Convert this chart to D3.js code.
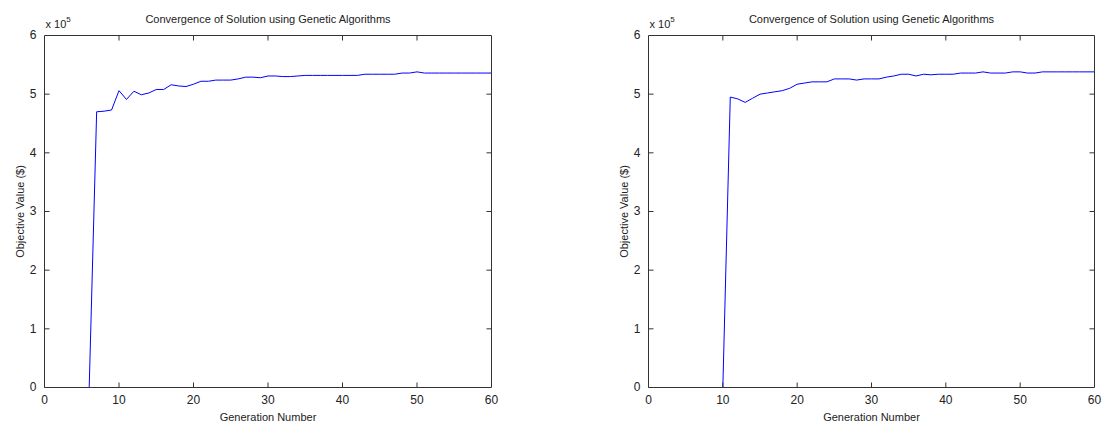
<!DOCTYPE html>
<html>
<head>
<meta charset="utf-8">
<script src="https://cdn.jsdelivr.net/npm/d3@7/dist/d3.min.js"></script>
<style>
  body { margin: 0; background: #fff; }
  svg { display: block; }
  text { font-family: "Liberation Sans", Arial, sans-serif; fill: #222; }
</style>
</head>
<body>
<div id="chart"></div>
<script>
// generation numbers 0..60
const generations = d3.range(0, 61)

// objective value in units of 1e5 $
const leftValues = [
    0, 0, 0, 0, 0, 0, 0, 4.70, 4.71, 4.73,
    5.06, 4.91, 5.05, 4.99, 5.02, 5.08, 5.08, 5.16, 5.14, 5.13,
    5.17, 5.22, 5.22, 5.24, 5.24, 5.24, 5.26, 5.29, 5.29, 5.28,
    5.31, 5.31, 5.30, 5.30, 5.31, 5.32, 5.32, 5.32, 5.32, 5.32,
    5.32, 5.32, 5.32, 5.34, 5.34, 5.34, 5.34, 5.34, 5.36, 5.36,
    5.38, 5.36, 5.36, 5.36, 5.36, 5.36, 5.36, 5.36, 5.36, 5.36,
    5.36
]

// right panel
const rightValues = [
    0, 0, 0, 0, 0, 0, 0, 0, 0, 0,
    0, 4.95, 4.92, 4.86, 4.93, 5.00, 5.02, 5.04, 5.06, 5.10,
    5.17, 5.19, 5.21, 5.21, 5.21, 5.26, 5.26, 5.26, 5.24, 5.26,
    5.26, 5.26, 5.29, 5.31, 5.34, 5.34, 5.31, 5.34, 5.33, 5.34,
    5.34, 5.34, 5.36, 5.36, 5.36, 5.38, 5.36, 5.36, 5.36, 5.38,
    5.38, 5.36, 5.36, 5.38, 5.38, 5.38, 5.38, 5.38, 5.38, 5.38,
    5.38
]

const xTicks = [0, 10, 20, 30, 40, 50, 60]
const yTicks = [0, 1, 2, 3, 4, 5, 6]

const titleText = 'Convergence of Solution using Genetic Algorithms'
const xLabel = 'Generation Number'
const yLabel = 'Objective Value ($)'

const width = 1102
const height = 425

const svg = d3.select('#chart').append('svg')
    .attr('width', width)
    .attr('height', height)

const panels = [
    { values: leftValues, left: 44.5, right: 491.5 },
    { values: rightValues, left: 648.5, right: 1094.5 }
]

const plotTop = 35.5
const plotBottom = 387.5
const tickLen = 5

panels.forEach(p => {
    const x = d3.scaleLinear().domain([0, 60]).range([p.left, p.right])
    const y = d3.scaleLinear().domain([0, 6]).range([plotBottom, plotTop])

    const g = svg.append('g')

    // line (drawn first so the box sits on top of the zero stretch)
    const line = d3.line()
        .x((d, i) => x(generations[i]))
        .y(d => y(d))

    g.append('path')
        .datum(p.values)
        .attr('d', line)
        .attr('fill', 'none')
        .attr('stroke', '#0000ff')
        .attr('stroke-width', 1)

    // axes with inward ticks
    const xBottom = g.append('g')
        .attr('transform', `translate(0,${plotBottom})`)
        .call(d3.axisBottom(x).offset(0).tickValues(xTicks).tickSizeInner(-tickLen).tickSizeOuter(0).tickPadding(tickLen + 3))
    const xTop = g.append('g')
        .attr('transform', `translate(0,${plotTop})`)
        .call(d3.axisTop(x).offset(0).tickValues(xTicks).tickSizeInner(-tickLen).tickSizeOuter(0).tickFormat(''))
    const yLeft = g.append('g')
        .attr('transform', `translate(${p.left},0)`)
        .call(d3.axisLeft(y).offset(0).tickValues(yTicks).tickFormat(d3.format('d')).tickSizeInner(-tickLen).tickSizeOuter(0).tickPadding(tickLen + 3))
    const yRight = g.append('g')
        .attr('transform', `translate(${p.right},0)`)
        .call(d3.axisRight(y).offset(0).tickValues(yTicks).tickSizeInner(-tickLen).tickSizeOuter(0).tickFormat(''))

    ;[xBottom, xTop, yLeft, yRight].forEach(a => {
        a.selectAll('.domain').attr('stroke', '#333')
        a.selectAll('.tick line').attr('stroke', '#333')
        a.selectAll('.tick text')
            .style('font-family', '"Liberation Sans", Arial, sans-serif')
            .style('font-size', '12px')
            .attr('fill', '#222')
    })

    // drop end ticks that sit on the box
    xBottom.selectAll('.tick line').filter(d => d === 0 || d === 60).remove()
    xTop.selectAll('.tick line').filter(d => d === 0 || d === 60).remove()
    yLeft.selectAll('.tick line').filter(d => d === 0 || d === 6).remove()
    yRight.selectAll('.tick line').filter(d => d === 0 || d === 6).remove()

    // title
    g.append('text')
        .attr('x', (p.left + p.right) / 2)
        .attr('y', 23)
        .attr('text-anchor', 'middle')
        .style('font-size', '11px')
        .text(titleText)

    // x label
    g.append('text')
        .attr('x', (p.left + p.right) / 2)
        .attr('y', 421)
        .attr('text-anchor', 'middle')
        .style('font-size', '11px')
        .text(xLabel)

    // y label
    g.append('text')
        .attr('transform', `translate(${p.left - 21},${(plotTop + plotBottom) / 2}) rotate(-90)`)
        .attr('text-anchor', 'middle')
        .style('font-size', '11px')
        .text(yLabel)

    // exponent
    const expo = g.append('text')
        .attr('x', p.left + 1)
        .attr('y', 28)
        .style('font-size', '11px')
    expo.append('tspan').text('x 10')
    expo.append('tspan')
        .attr('dy', -6)
        .style('font-size', '8px')
        .text('5')
})
</script>
</body>
</html>
